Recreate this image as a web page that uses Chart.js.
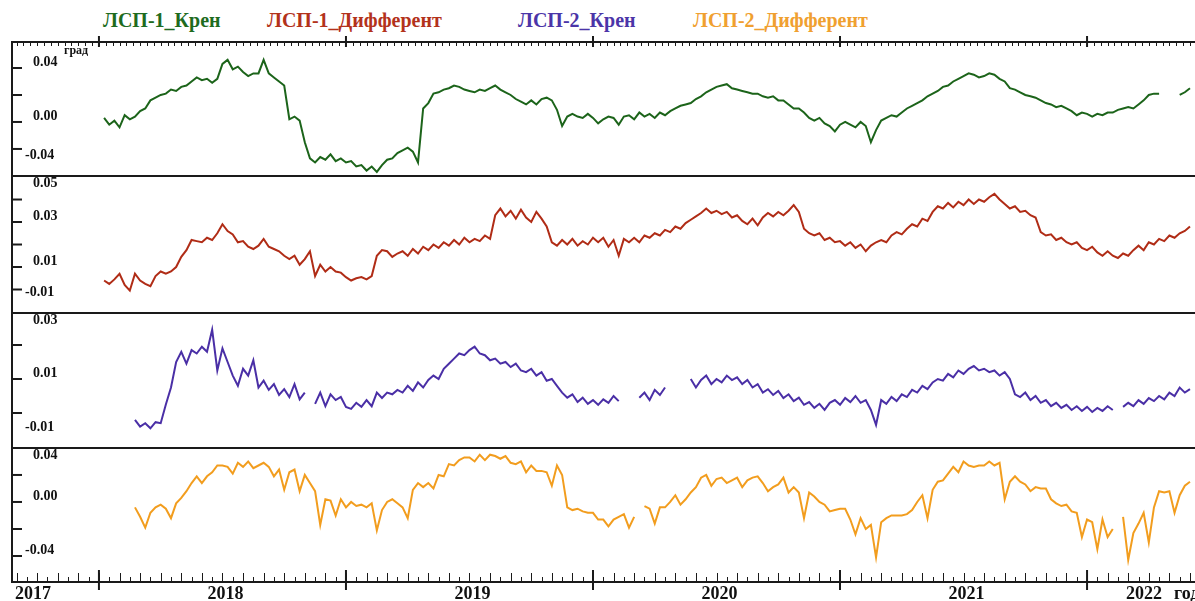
<!DOCTYPE html>
<html>
<head>
<meta charset="utf-8">
<script src="https://cdn.jsdelivr.net/npm/chart.js@4.4.1/dist/chart.umd.min.js"></script>
<style>
  body { margin: 0; background: #fff; }
  #wrap { position: relative; width: 1195px; height: 601px; overflow: hidden; background: #fff;
          font-family: "Liberation Serif", "Times New Roman", serif; font-weight: bold; }
  .leg { position: absolute; top: 8px; font-size: 20px; line-height: 24px; white-space: nowrap; }
  canvas { position: absolute; left: 0; }
</style>
</head>
<body>
<div id="wrap">
  <div class="leg" style="left:103px;color:#1e6b1e">ЛСП-1_Крен</div>
  <div class="leg" style="left:267px;color:#b3321b">ЛСП-1_Дифферент</div>
  <div class="leg" style="left:518px;color:#4b35a8">ЛСП-2_Крен</div>
  <div class="leg" style="left:693px;color:#f0a030">ЛСП-2_Дифферент</div>
  <canvas id="p1" width="1195" height="175" style="top:0px"></canvas>
  <canvas id="p2" width="1195" height="137" style="top:175px"></canvas>
  <canvas id="p3" width="1195" height="135" style="top:312px"></canvas>
  <canvas id="p4" width="1195" height="154" style="top:447px"></canvas>
</div>
<script>
'use strict';

const startYear = 2018;
const stepYear = 1 / 48;
const xMin = 2017.644, xMax = 2022.437;
const years = [2017, 2018, 2019, 2020, 2021, 2022];

// ЛСП-1 крен, град
const kren1 = [
  null,
  0.003, -0.002, 0.001, -0.004, 0.005, 0.002, 0.004, 0.008, 0.010, 0.016,
  0.018, 0.020, 0.021, 0.024, 0.023, 0.026, 0.027, 0.030, 0.033, 0.031,
  0.032, 0.029, 0.032, 0.043, 0.046, 0.039, 0.041, 0.037, 0.034, 0.036,
  0.036, 0.046, 0.036, 0.033, 0.030, 0.027, 0.002, 0.004, 0.001, -0.015,
  -0.027, -0.030, -0.026, -0.028, -0.024, -0.029, -0.027, -0.030, -0.029, -0.033,
  -0.032, -0.036, -0.033, -0.037, -0.032, -0.028, -0.027, -0.023, -0.021, -0.019,
  -0.022, -0.030, 0.010, 0.014, 0.021, 0.022, 0.024, 0.025, 0.027, 0.026,
  0.024, 0.023, 0.022, 0.024, 0.023, 0.025, 0.027, 0.024, 0.022, 0.020,
  0.017, 0.015, 0.013, 0.016, 0.013, 0.017, 0.018, 0.016, 0.009, -0.003,
  0.004, 0.006, 0.004, 0.003, 0.006, 0.003, -0.001, 0.002, 0.004, 0.003,
  -0.002, 0.004, 0.005, 0.002, 0.007, 0.004, 0.006, 0.003, 0.007, 0.005,
  0.008, 0.010, 0.012, 0.013, 0.014, 0.017, 0.019, 0.022, 0.024, 0.026,
  0.027, 0.028, 0.025, 0.024, 0.023, 0.022, 0.021, 0.021, 0.019, 0.018,
  0.019, 0.016, 0.016, 0.013, 0.010, 0.010, 0.007, 0.003, 0.001, 0.003,
  -0.001, -0.003, -0.007, -0.002, 0.000, -0.002, -0.004, 0.000, -0.003, -0.015,
  -0.006, 0.001, 0.003, 0.005, 0.004, 0.007, 0.010, 0.012, 0.014, 0.016,
  0.019, 0.021, 0.023, 0.026, 0.027, 0.030, 0.032, 0.034, 0.036, 0.035,
  0.033, 0.034, 0.036, 0.035, 0.032, 0.030, 0.025, 0.024, 0.022, 0.020,
  0.019, 0.018, 0.016, 0.014, 0.013, 0.011, 0.012, 0.010, 0.008, 0.005,
  0.007, 0.006, 0.004, 0.006, 0.005, 0.007, 0.007, 0.009, 0.010, 0.011,
  0.010, 0.013, 0.016, 0.020, 0.021, 0.021, null, null, null, 0.020,
  0.022, 0.025
];

// ЛСП-1 дифферент, град
const diff1 = [
  null,
  0.004, 0.0025, 0.0045, 0.007, 0.002, -0.0005, 0.007, 0.004, 0.0025, 0.0015,
  0.006, 0.008, 0.007, 0.008, 0.010, 0.0145, 0.0175, 0.022, 0.0215, 0.021,
  0.023, 0.022, 0.025, 0.029, 0.026, 0.0245, 0.021, 0.0215, 0.019, 0.018,
  0.0195, 0.0225, 0.019, 0.018, 0.017, 0.015, 0.0135, 0.015, 0.011, 0.0135,
  0.017, 0.006, 0.011, 0.008, 0.010, 0.008, 0.0075, 0.0055, 0.004, 0.005,
  0.0055, 0.0045, 0.006, 0.015, 0.0175, 0.017, 0.0145, 0.016, 0.017, 0.015,
  0.018, 0.016, 0.019, 0.0175, 0.020, 0.0185, 0.021, 0.0195, 0.022, 0.020,
  0.023, 0.021, 0.0225, 0.0215, 0.024, 0.0225, 0.033, 0.036, 0.0325, 0.035,
  0.0315, 0.0355, 0.032, 0.030, 0.0345, 0.0315, 0.028, 0.021, 0.0195, 0.022,
  0.020, 0.0225, 0.0195, 0.0215, 0.020, 0.023, 0.021, 0.023, 0.019, 0.022,
  0.015, 0.0225, 0.021, 0.023, 0.021, 0.024, 0.023, 0.025, 0.024, 0.0265,
  0.0255, 0.028, 0.027, 0.0295, 0.031, 0.0325, 0.034, 0.036, 0.034, 0.035,
  0.0335, 0.0345, 0.032, 0.033, 0.0305, 0.029, 0.0315, 0.0285, 0.032, 0.034,
  0.0325, 0.0345, 0.033, 0.035, 0.0375, 0.0345, 0.027, 0.025, 0.024, 0.025,
  0.022, 0.023, 0.021, 0.0215, 0.0195, 0.021, 0.0185, 0.020, 0.017, 0.0195,
  0.021, 0.022, 0.021, 0.024, 0.0255, 0.0245, 0.027, 0.029, 0.028, 0.0315,
  0.0305, 0.0345, 0.037, 0.036, 0.0385, 0.0365, 0.039, 0.0375, 0.040, 0.038,
  0.040, 0.039, 0.041, 0.0425, 0.040, 0.038, 0.036, 0.037, 0.0345, 0.035,
  0.033, 0.032, 0.0255, 0.024, 0.0245, 0.022, 0.023, 0.021, 0.020, 0.021,
  0.0185, 0.0175, 0.019, 0.0165, 0.015, 0.017, 0.015, 0.014, 0.016, 0.015,
  0.0175, 0.0195, 0.0175, 0.021, 0.020, 0.0225, 0.0215, 0.024, 0.023, 0.025,
  0.026, 0.028
];

// ЛСП-2 крен, град
const kren2 = [
  null, null, null, null, null, null, null,
  -0.002, -0.004, -0.003, -0.0045,
  -0.0027, -0.003, 0.0025, 0.0075, 0.015, 0.018, 0.0145, 0.0185, 0.0175, 0.0195,
  0.018, 0.0245, 0.0125, 0.019, 0.015, 0.011, 0.008, 0.013, 0.011, 0.0155,
  0.0075, 0.0095, 0.0068, 0.0085, 0.0053, 0.007, 0.0047, 0.0085, 0.004, 0.006,
  null, 0.0027, 0.006, 0.002, 0.0055, 0.0038, 0.0047, 0.0018, 0.0012, 0.003,
  0.0018, 0.0038, 0.002, 0.006, 0.0044, 0.006, 0.0055, 0.0068, 0.006, 0.008,
  0.0065, 0.009, 0.0075, 0.0097, 0.011, 0.010, 0.013, 0.0145, 0.016, 0.0175,
  0.017, 0.0185, 0.0195, 0.0175, 0.017, 0.0155, 0.016, 0.0145, 0.015, 0.0135,
  0.0145, 0.0125, 0.012, 0.013, 0.011, 0.012, 0.0095, 0.010, 0.008, 0.006,
  0.0045, 0.0055, 0.0032, 0.0045, 0.0027, 0.0038, 0.0024, 0.004, 0.003, 0.005,
  0.0035, null, null, null, 0.0045, 0.006, 0.0038, 0.0068, 0.0053, 0.0075,
  null, null, null, null, 0.010, 0.0075, 0.0097, 0.011, 0.0085, 0.010,
  0.009, 0.011, 0.0097, 0.0105, 0.0085, 0.0097, 0.0075, 0.0085, 0.006, 0.007,
  0.0053, 0.0065, 0.0044, 0.0055, 0.0035, 0.0045, 0.0024, 0.0032, 0.0015, 0.0027,
  0.0009, 0.003, 0.0038, 0.0024, 0.0044, 0.0032, 0.005, 0.003, 0.0038, 0.0009,
  -0.0035, 0.0038, 0.0027, 0.0047, 0.0035, 0.0055, 0.0047, 0.0068, 0.006, 0.008,
  0.007, 0.009, 0.010, 0.0095, 0.0115, 0.0105, 0.0125, 0.0115, 0.013, 0.0138,
  0.0125, 0.013, 0.012, 0.0125, 0.011, 0.012, 0.010, 0.0055, 0.0047, 0.006,
  0.0038, 0.005, 0.003, 0.0038, 0.002, 0.003, 0.0015, 0.0024, 0.0009, 0.002,
  0.0006, 0.0018, 0.0003, 0.0015, 0.0006, 0.002, 0.0009, null, 0.0018, 0.003,
  0.002, 0.0038, 0.0027, 0.0044, 0.0035, 0.005, 0.004, 0.006, 0.005, 0.0075,
  0.006, 0.007
];

// ЛСП-2 дифферент, град
const diff2 = [
  null, null, null, null, null, null, null,
  -0.004, -0.011, -0.019, -0.008,
  -0.004, -0.002, -0.005, -0.012, -0.001, 0.003, 0.008, 0.014, 0.019, 0.014,
  0.019, 0.022, 0.027, 0.027, 0.026, 0.021, 0.029, 0.026, 0.030, 0.025,
  0.027, 0.029, 0.026, 0.019, 0.024, 0.009, 0.022, 0.024, 0.008, 0.020,
  0.014, 0.008, -0.017, 0.002, 0.001, -0.010, 0.002, -0.004, 0.000, -0.003,
  -0.002, -0.004, -0.001, -0.021, -0.006, 0.000, 0.002, -0.001, -0.004, -0.012,
  0.009, 0.014, 0.011, 0.014, 0.010, 0.020, 0.019, 0.028, 0.027, 0.031,
  0.033, 0.033, 0.030, 0.035, 0.031, 0.035, 0.034, 0.032, 0.034, 0.029,
  0.028, 0.030, 0.022, 0.027, 0.023, 0.023, 0.022, 0.012, 0.027, 0.020,
  -0.004, -0.006, -0.005, -0.007, -0.008, -0.008, -0.013, -0.013, -0.018, -0.013,
  -0.011, -0.009, -0.019, -0.011, null, -0.003, -0.005, -0.016, -0.004, -0.004,
  0.000, 0.005, -0.002, 0.002, 0.007, 0.011, 0.018, 0.020, 0.012, 0.017,
  0.018, 0.014, 0.016, 0.018, 0.011, 0.016, 0.018, 0.019, 0.014, 0.008,
  0.011, 0.013, 0.018, 0.007, 0.011, 0.007, -0.012, 0.007, 0.004, 0.000,
  -0.002, -0.007, -0.006, -0.005, -0.005, -0.013, -0.024, -0.012, -0.020, -0.017,
  -0.041, -0.015, -0.012, -0.010, -0.010, -0.010, -0.009, -0.006, 0.000, 0.005,
  -0.012, 0.009, 0.015, 0.016, 0.021, 0.026, 0.022, 0.030, 0.027, 0.026,
  0.027, 0.027, 0.030, 0.027, 0.029, 0.002, 0.015, 0.019, 0.015, 0.013,
  0.008, 0.011, 0.010, 0.010, 0.002, -0.001, -0.003, -0.002, -0.007, -0.008,
  -0.026, -0.013, -0.015, -0.035, -0.013, -0.026, -0.020, null, -0.011, -0.043,
  -0.023, -0.016, -0.008, -0.030, -0.004, 0.008, 0.007, 0.008, -0.008, 0.005,
  0.012, 0.015
];

// Метки и засечки осей Y для каждой панели
const ticks1 = [0.04, 0.02, 0.00, -0.02], labels1 = [0.04, 0.00, -0.04];
const ticks2 = [0.04, 0.03, 0.02, 0.01, 0.00], labels2 = [0.05, 0.03, 0.01, -0.01];
const ticks3 = [0.02, 0.01, 0.00], labels3 = [0.03, 0.01, -0.01];
const ticks4 = [0.02, 0.00, -0.02, -0.04], labels4 = [0.04, 0.00, -0.04];

const panels = [
  { id: 'p1', data: kren1, color: '#1c641a', min: -0.0393, max: 0.06, ticks: ticks1, labels: labels1, padTop: 41, padBottom: 0, top: true },
  { id: 'p2', data: diff1, color: '#b02c16', min: -0.01, max: 0.0509, ticks: ticks2, labels: labels2, padTop: 0, padBottom: 0 },
  { id: 'p3', data: kren2, color: '#4a2fa6', min: -0.01, max: 0.0297, ticks: ticks3, labels: labels3, padTop: 0, padBottom: 0 },
  { id: 'p4', data: diff2, color: '#f29d1e', min: -0.06, max: 0.0407, ticks: ticks4, labels: labels4, padTop: 0, padBottom: 18, bottom: true }
];

function line(ctx, x1, y1, x2, y2) {
  ctx.beginPath();
  ctx.moveTo(x1, y1);
  ctx.lineTo(x2, y2);
  ctx.stroke();
}

// Рамка, засечки и подписи рисуем по шкалам графика
const framePlugin = {
  id: 'frame',
  afterDraw(chart, args, opts) {
    const p = opts.panel;
    const { ctx, chartArea: a } = chart;
    const x = chart.scales.x, y = chart.scales.y;
    ctx.save();
    ctx.strokeStyle = '#1a1a1a';
    ctx.fillStyle = '#111';
    ctx.lineWidth = 2;
    line(ctx, a.left, a.top + 1, a.right, a.top + 1);
    line(ctx, a.left + 1, a.top, a.left + 1, a.bottom);

    p.ticks.forEach(v => {
      const py = y.getPixelForValue(v);
      line(ctx, a.left, py, a.left + 11, py);
    });

    ctx.font = 'bold 14px "Liberation Serif"';
    ctx.textBaseline = 'middle';
    ctx.textAlign = 'left';
    p.labels.forEach(v => {
      let py = y.getPixelForValue(v) - 6;
      py = Math.min(Math.max(py, a.top + 8), a.bottom - 20);
      ctx.fillText(v.toFixed(2), v < 0 ? a.left + 14 : a.left + 22, py);
    });

    if (p.top) {
      ctx.lineWidth = 1;
      for (let k = Math.ceil(xMin * 36); k <= Math.floor(xMax * 36); k++) {
        const px = Math.round(x.getPixelForValue(k / 36)) + 0.5;
        line(ctx, px, a.top, px, a.top + 5);
      }
      ctx.lineWidth = 2;
      years.forEach(yr => {
        if (yr < xMin) return;
        const px = x.getPixelForValue(yr);
        line(ctx, px, a.top - 5, px, a.top + 6);
      });
      ctx.font = 'bold 12px "Liberation Serif"';
      ctx.fillText('град', a.left + 53, a.top + 10);
    }

    if (p.bottom) {
      ctx.lineWidth = 2;
      line(ctx, a.left, a.bottom - 1, a.right, a.bottom - 1);
      ctx.lineWidth = 1;
      for (let k = Math.ceil(xMin * 24); k <= Math.floor(xMax * 24); k++) {
        const px = Math.round(x.getPixelForValue(k / 24)) + 0.5;
        const len = k % 2 === 0 ? 9 : 5;
        line(ctx, px, a.bottom - 1, px, a.bottom - 1 - len);
      }
      ctx.lineWidth = 2;
      ctx.font = 'bold 18px "Liberation Serif"';
      years.forEach(yr => {
        if (yr >= xMin) {
          const px = x.getPixelForValue(yr);
          line(ctx, px, a.bottom - 13, px, a.bottom + 7);
        }
        if (yr < xMin) {
          ctx.textAlign = 'left';
          ctx.fillText(String(yr), a.left + 4, a.bottom + 11);
        } else {
          const px1 = x.getPixelForValue(yr);
          const px2 = x.getPixelForValue(Math.min(yr + 1, xMax));
          ctx.textAlign = 'center';
          ctx.fillText(String(yr), (px1 + px2) / 2 + 3, a.bottom + 11);
        }
      });
      ctx.textAlign = 'left';
      ctx.fillText('год', a.right - 21, a.bottom + 11);
    }
    ctx.restore();
  }
};

panels.forEach(p => {
  const points = p.data.map((v, i) => ({ x: startYear + i * stepYear, y: v }));
  new Chart(document.getElementById(p.id), {
    type: 'line',
    data: {
      datasets: [{
        data: points,
        borderColor: p.color,
        borderWidth: 2,
        pointRadius: 0,
        tension: 0,
        spanGaps: false
      }]
    },
    options: {
      responsive: false,
      animation: false,
      events: [],
      layout: { padding: { left: 11, right: 0, top: p.padTop, bottom: p.padBottom } },
      plugins: {
        legend: { display: false },
        tooltip: { enabled: false },
        frame: { panel: p }
      },
      scales: {
        x: { type: 'linear', min: xMin, max: xMax, display: false },
        y: { type: 'linear', min: p.min, max: p.max, display: false }
      }
    },
    plugins: [framePlugin]
  });
});
</script>
</body>
</html>
